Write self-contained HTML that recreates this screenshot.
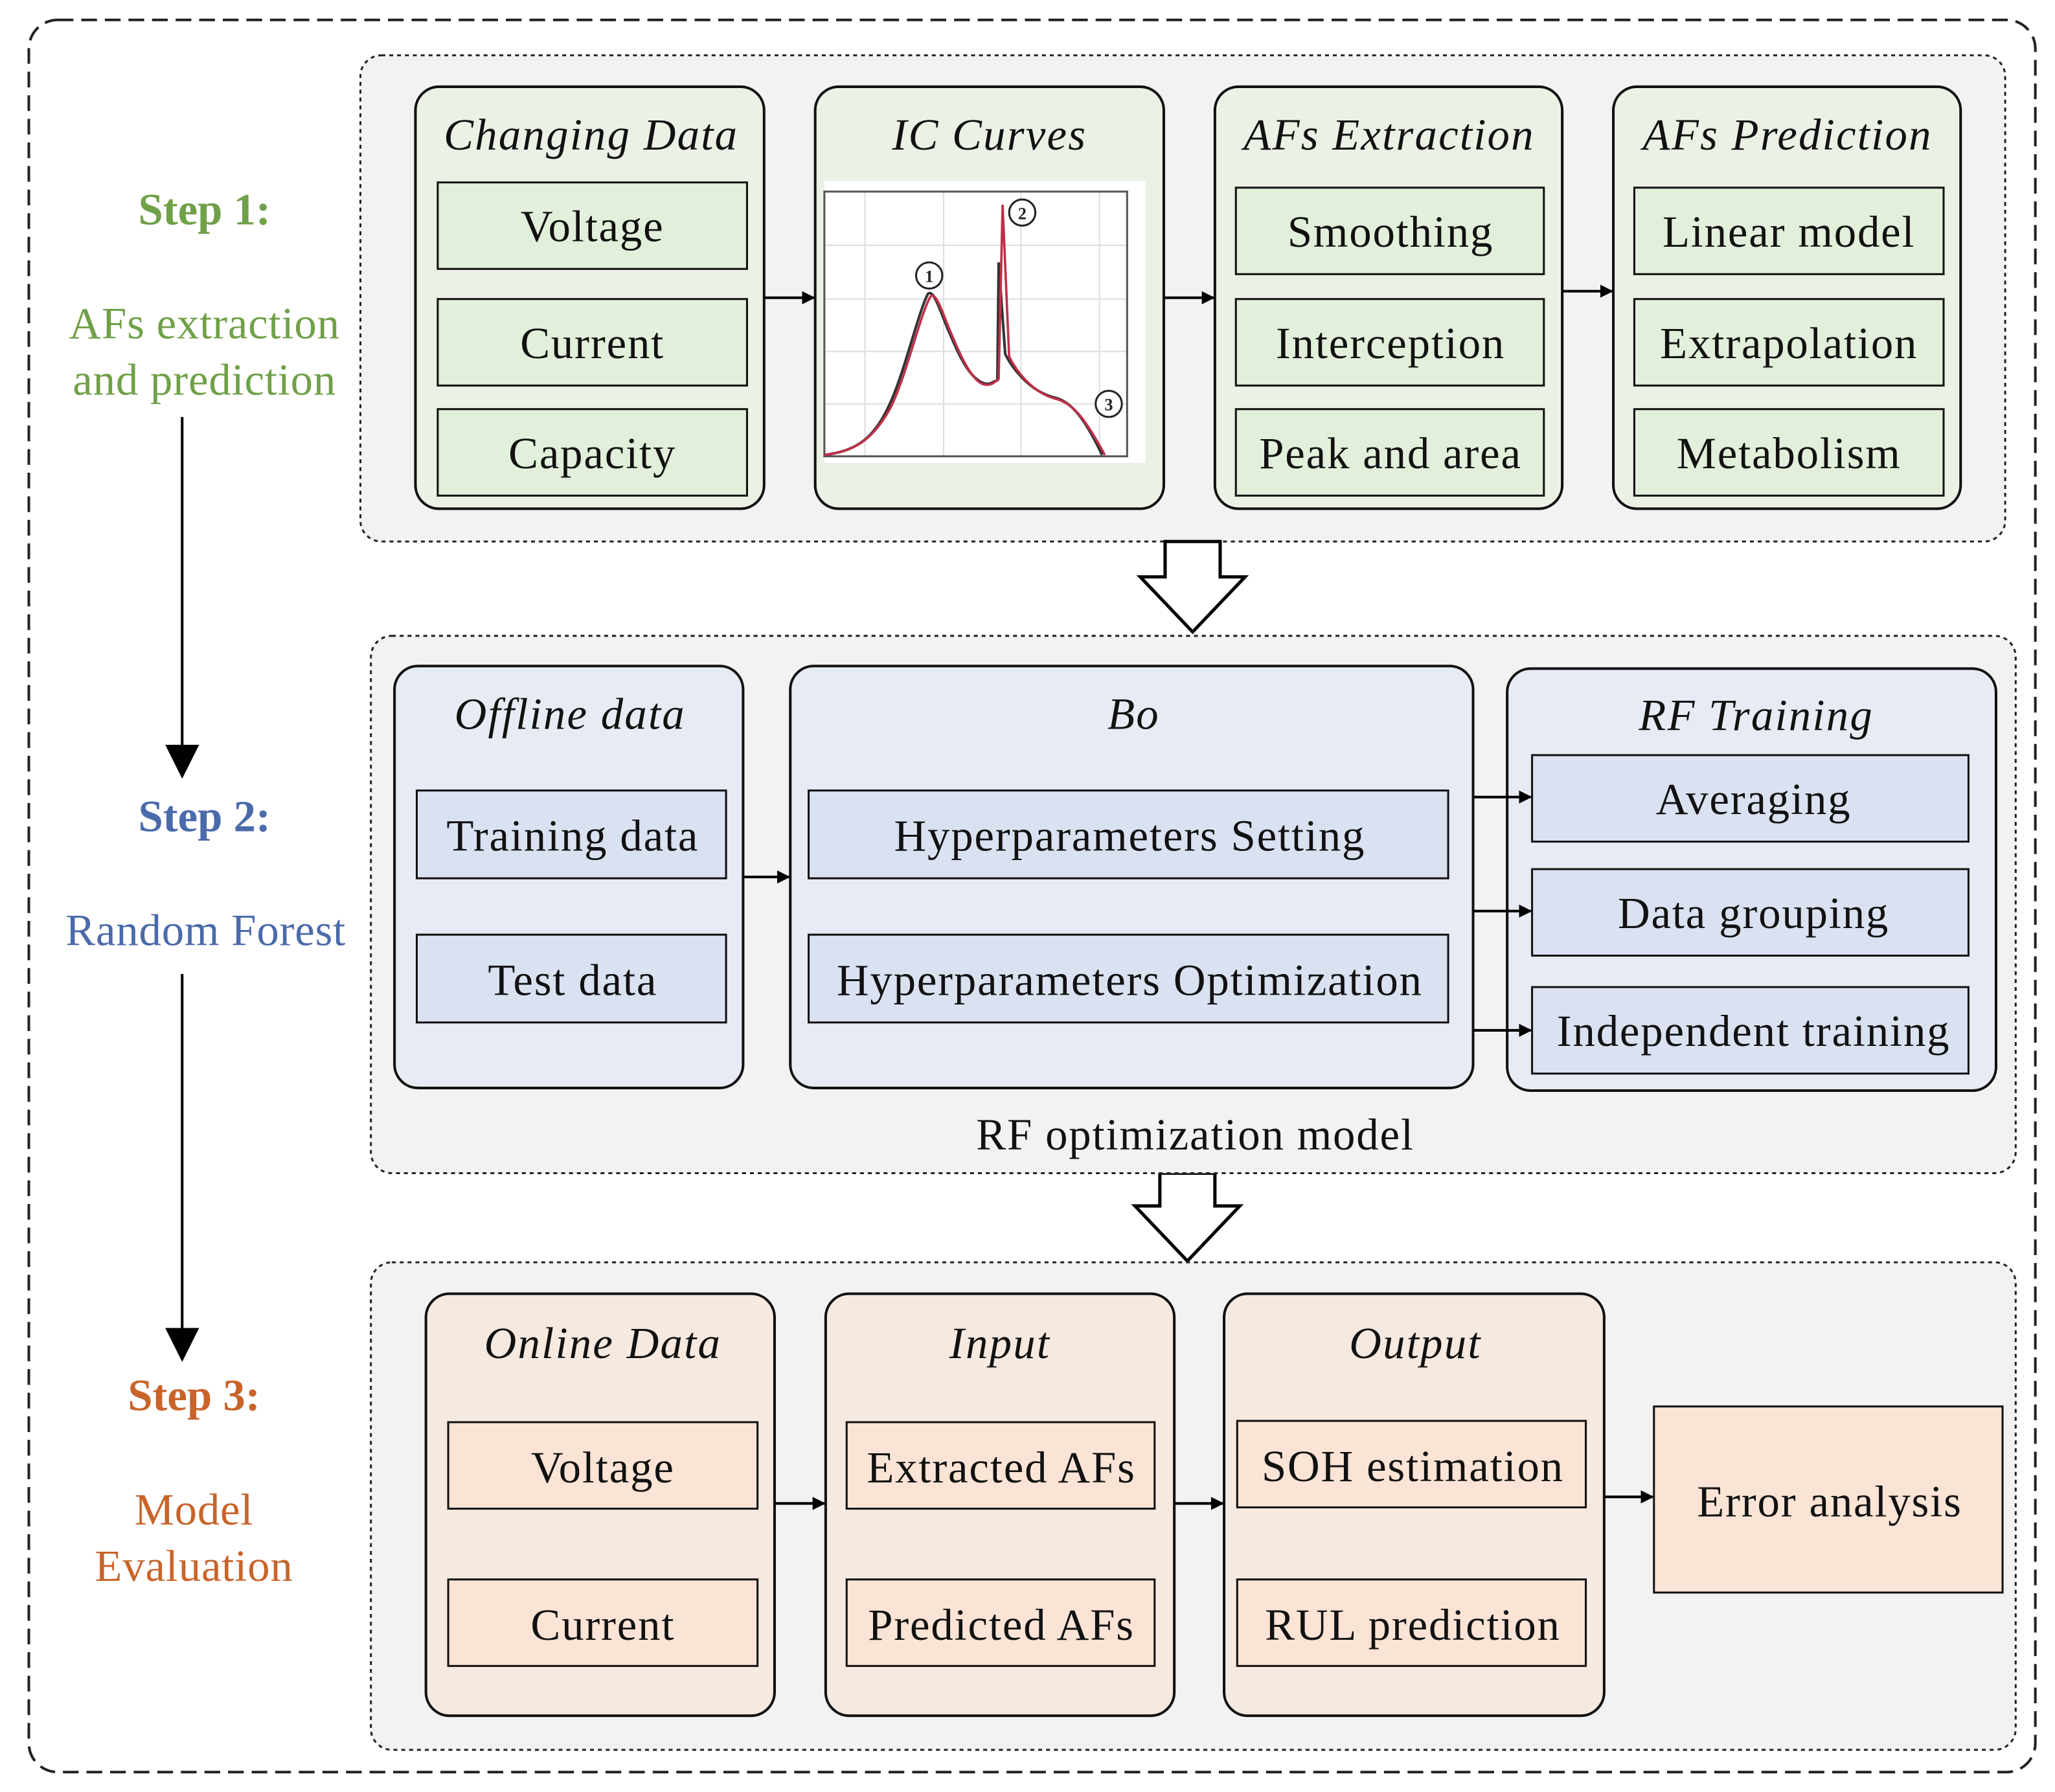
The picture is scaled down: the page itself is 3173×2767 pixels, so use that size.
<!DOCTYPE html>
<html><head><meta charset="utf-8"><style>
html,body{margin:0;padding:0;background:#fff}
svg{display:block}
text{font-family:"Liberation Serif",serif}
.t{font-size:34px;letter-spacing:0.9px;text-anchor:middle;fill:#111}
.ti{font-size:34px;letter-spacing:1.1px;font-style:italic;text-anchor:middle;fill:#111}
</style></head><body>
<svg width="3173" height="2767" viewBox="0 0 1568 1367" xmlns="http://www.w3.org/2000/svg">
<defs><marker id="ah" markerWidth="10" markerHeight="10" refX="9" refY="5" orient="auto" markerUnits="userSpaceOnUse"><path d="M0,0 L10,5 L0,10 z" fill="#000"/></marker>
<marker id="ahb" markerWidth="26" markerHeight="26" refX="24" refY="13" orient="auto" markerUnits="userSpaceOnUse"><path d="M0,0 L26,13 L0,26 z" fill="#000"/></marker></defs>
<rect x="22" y="15" width="1531" height="1337" rx="22" fill="#fff" stroke="#222" stroke-width="2" stroke-dasharray="12,6"/>
<!-- left labels -->
<g font-size="34" text-anchor="middle">
<text x="156" y="171" font-weight="bold" fill="#70a048">Step 1:</text>
<text x="156" y="258" fill="#70a048" letter-spacing="0.4">AFs extraction</text>
<text x="156" y="301" fill="#70a048" letter-spacing="0.4">and prediction</text>
<text x="156" y="634" font-weight="bold" fill="#4a6aaa">Step 2:</text>
<text x="157" y="721" fill="#4a6aaa" letter-spacing="0.4">Random Forest</text>
<text x="148" y="1076" font-weight="bold" fill="#c8642a">Step 3:</text>
<text x="148" y="1163" fill="#c8642a" letter-spacing="0.4">Model</text>
<text x="148" y="1206" fill="#c8642a" letter-spacing="0.4">Evaluation</text>
</g>
<line x1="139" y1="318" x2="139" y2="592" stroke="#000" stroke-width="2" marker-end="url(#ahb)"/>
<line x1="139" y1="743" x2="139" y2="1037" stroke="#000" stroke-width="2" marker-end="url(#ahb)"/>
<!-- panel 1 -->
<rect x="275" y="42" width="1255" height="371" rx="16" fill="#f2f2f2" stroke="#222" stroke-width="1.5" stroke-dasharray="3,3"/>
<g fill="#ebf1e5" stroke="#111" stroke-width="2">
<rect x="317" y="66" width="266" height="322" rx="18"/><rect x="622" y="66" width="266" height="322" rx="18"/>
<rect x="927" y="66" width="265" height="322" rx="18"/><rect x="1231" y="66" width="265" height="322" rx="18"/></g>
<g fill="#e2efda" stroke="#111" stroke-width="1.5">
<rect x="334" y="139" width="236" height="66"/><rect x="334" y="228" width="236" height="66"/><rect x="334" y="312" width="236" height="66"/>
<rect x="943" y="143" width="235" height="66"/><rect x="943" y="228" width="235" height="66"/><rect x="943" y="312" width="235" height="66"/>
<rect x="1247" y="143" width="236" height="66"/><rect x="1247" y="228" width="236" height="66"/><rect x="1247" y="312" width="236" height="66"/></g>
<text class="ti" x="451" y="114">Changing Data</text><text class="ti" x="755" y="114">IC Curves</text>
<text class="ti" x="1060" y="114">AFs Extraction</text><text class="ti" x="1364" y="114">AFs Prediction</text>
<text class="t" x="452" y="184">Voltage</text><text class="t" x="452" y="273">Current</text><text class="t" x="452" y="357">Capacity</text>
<text class="t" x="1061" y="188">Smoothing</text><text class="t" x="1061" y="273">Interception</text><text class="t" x="1061" y="357">Peak and area</text>
<text class="t" x="1365" y="188">Linear model</text><text class="t" x="1365" y="273">Extrapolation</text><text class="t" x="1365" y="357">Metabolism</text>
<!-- IC plot -->
<rect x="629" y="138" width="245" height="215" fill="#fff"/>
<g stroke="#ddd" stroke-width="1"><line x1="660" y1="146" x2="660" y2="348"/><line x1="720" y1="146" x2="720" y2="348"/><line x1="779" y1="146" x2="779" y2="348"/><line x1="839" y1="146" x2="839" y2="348"/>
<line x1="629" y1="187" x2="860" y2="187"/><line x1="629" y1="228" x2="860" y2="228"/><line x1="629" y1="268" x2="860" y2="268"/><line x1="629" y1="308" x2="860" y2="308"/></g>
<rect x="629" y="146" width="231" height="202" fill="none" stroke="#555" stroke-width="1.5"/>
<path d="M629,347 C650,344 665,338 678,310 C690,285 700,240 708,224 C713,220 718,240 725,255 C732,272 740,288 750,292 C756,294 757,291 761,290 L762,200 L767,270 C772,280 785,298 804,303 C818,306 828,320 841,347" fill="none" stroke="#333" stroke-width="2"/>
<path d="M629,347 C650,344 665,338 680,310 C692,285 702,240 710,226 C715,222 720,242 727,257 C734,274 742,290 750,293 C757,295 760,290 762,289 L765,156 L770,272 C775,282 787,299 805,304 C819,307 829,321 843,347" fill="none" stroke="#c0304a" stroke-width="1.8"/>
<g fill="#fff" stroke="#222" stroke-width="1.5"><circle cx="709" cy="210" r="10"/><circle cx="780" cy="162" r="10"/><circle cx="846" cy="308" r="10"/></g>
<g font-size="13" text-anchor="middle" font-weight="bold" fill="#222"><text x="709" y="215">1</text><text x="780" y="167">2</text><text x="846" y="313">3</text></g>
<g stroke="#000" stroke-width="2">
<line x1="583" y1="227" x2="621" y2="227" marker-end="url(#ah)"/><line x1="888" y1="227" x2="926" y2="227" marker-end="url(#ah)"/><line x1="1192" y1="222" x2="1230" y2="222" marker-end="url(#ah)"/></g>
<!-- hollow arrows -->
<path d="M889,413 L931,413 L931,440 L950,440 L910,482 L870,440 L889,440 z" fill="#fff" stroke="#000" stroke-width="2.5"/>
<path d="M885,895 L927,895 L927,920 L946,920 L906,962 L866,920 L885,920 z" fill="#fff" stroke="#000" stroke-width="2.5"/>
<!-- panel 2 -->
<rect x="283" y="485" width="1255" height="410" rx="16" fill="#f2f2f2" stroke="#222" stroke-width="1.5" stroke-dasharray="3,3"/>
<g fill="#e7ebf3" stroke="#111" stroke-width="2">
<rect x="301" y="508" width="266" height="322" rx="18"/><rect x="603" y="508" width="521" height="322" rx="18"/><rect x="1150" y="510" width="373" height="322" rx="18"/></g>
<g fill="#dae1f1" stroke="#111" stroke-width="1.5">
<rect x="318" y="603" width="236" height="67"/><rect x="318" y="713" width="236" height="67"/>
<rect x="617" y="603" width="488" height="67"/><rect x="617" y="713" width="488" height="67"/>
<rect x="1169" y="576" width="333" height="66"/><rect x="1169" y="663" width="333" height="66"/><rect x="1169" y="753" width="333" height="66"/></g>
<text class="ti" x="435" y="556">Offline data</text><text class="ti" x="865" y="556">Bo</text><text class="ti" x="1340" y="557">RF Training</text>
<text class="t" x="437" y="649">Training data</text><text class="t" x="437" y="759">Test data</text>
<text class="t" x="862" y="649">Hyperparameters Setting</text><text class="t" x="862" y="759">Hyperparameters Optimization</text>
<text class="t" x="1338" y="621">Averaging</text><text class="t" x="1338" y="708">Data grouping</text><text class="t" x="1338" y="798">Independent training</text>
<text class="t" x="912" y="877">RF optimization model</text>
<g stroke="#000" stroke-width="2">
<line x1="567" y1="669" x2="602" y2="669" marker-end="url(#ah)"/><line x1="1124" y1="608" x2="1168" y2="608" marker-end="url(#ah)"/>
<line x1="1124" y1="695" x2="1168" y2="695" marker-end="url(#ah)"/><line x1="1124" y1="786" x2="1168" y2="786" marker-end="url(#ah)"/></g>
<!-- panel 3 -->
<rect x="283" y="963" width="1255" height="372" rx="16" fill="#f2f2f2" stroke="#222" stroke-width="1.5" stroke-dasharray="3,3"/>
<g fill="#f5e9e0" stroke="#111" stroke-width="2">
<rect x="325" y="987" width="266" height="322" rx="18"/><rect x="630" y="987" width="266" height="322" rx="18"/><rect x="934" y="987" width="290" height="322" rx="18"/></g>
<g fill="#fbe4d5" stroke="#111" stroke-width="1.5">
<rect x="342" y="1085" width="236" height="66"/><rect x="342" y="1205" width="236" height="66"/>
<rect x="646" y="1085" width="235" height="66"/><rect x="646" y="1205" width="235" height="66"/>
<rect x="944" y="1084" width="266" height="66"/><rect x="944" y="1205" width="266" height="66"/>
<rect x="1262" y="1073" width="266" height="142"/></g>
<text class="ti" x="460" y="1036">Online Data</text><text class="ti" x="763" y="1036">Input</text><text class="ti" x="1080" y="1036">Output</text>
<text class="t" x="460" y="1131">Voltage</text><text class="t" x="460" y="1251">Current</text>
<text class="t" x="764" y="1131">Extracted AFs</text><text class="t" x="764" y="1251">Predicted AFs</text>
<text class="t" x="1078" y="1130">SOH estimation</text><text class="t" x="1078" y="1251">RUL prediction</text>
<text class="t" x="1396" y="1157">Error analysis</text>
<g stroke="#000" stroke-width="2">
<line x1="591" y1="1147" x2="629" y2="1147" marker-end="url(#ah)"/><line x1="896" y1="1147" x2="933" y2="1147" marker-end="url(#ah)"/><line x1="1224" y1="1142" x2="1261" y2="1142" marker-end="url(#ah)"/></g>
</svg>
</body></html>
